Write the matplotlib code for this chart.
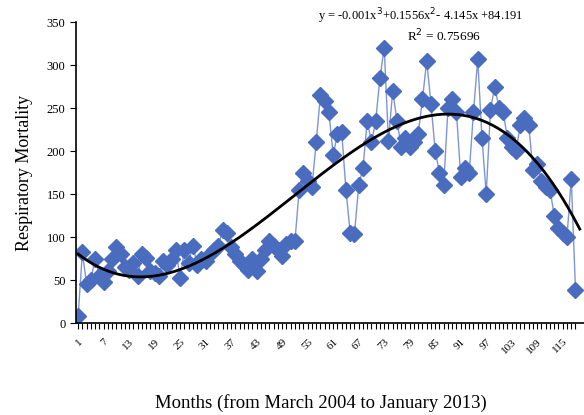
import numpy as np
import matplotlib.pyplot as plt

plt.rcParams["font.family"] = ["Liberation Serif", "DejaVu Serif"]

# monthly respiratory mortality, month 1 = March 2004
mortality = [
    8, 82, 45, 50, 75, 55, 48, 60, 75, 88,
    80, 65, 62, 70, 55, 80, 76, 60, 58, 55,
    72, 68, 75, 85, 52, 85, 70, 90, 68, 75,
    72, 80, 85, 90, 108, 105, 88, 80, 72, 68,
    62, 75, 60, 75, 85, 95, 90, 85, 78, 92,
    95, 95, 155, 175, 165, 158, 210, 265, 258, 245,
    195, 220, 222, 155, 105, 103, 160, 180, 235, 210,
    235, 285, 320, 212, 270, 235, 205, 215, 205, 210,
    220, 260, 305, 255, 200, 175, 160, 250, 260, 245,
    170, 180, 175, 245, 307, 215, 150, 248, 275, 250,
    245, 215, 205, 200, 230, 238, 230, 178, 185, 165,
    158, 155, 125, 110, 105, 100, 168, 38,
]
months = np.arange(1, len(mortality) + 1)

# cubic trend as printed on the chart
coef = [-0.001, 0.1556, -4.145, 84.191]
eq_text = "y = -0.001x$^3$+0.1556x$^2$- 4.145x +84.191"
r2_text = "R$^2$ = 0.75696"

fig = plt.figure(figsize=(5.84, 4.15), dpi=100)
ax = fig.add_axes([76 / 584, 92 / 415, 508 / 584, 301 / 415])

ax.plot(months, mortality, color="#7d95d6", lw=1.0, marker="D", markersize=8.5,
        markerfacecolor="#4a6cbf", markeredgecolor="#4a6cbf", zorder=2)

xs = np.linspace(1, 119, 300)
ax.plot(xs, np.polyval(coef, xs), color="black", lw=2.0, zorder=3)

ax.set_xlim(0.5, 120)
ax.set_ylim(0, 350)
ax.set_yticks(np.arange(0, 351, 50))
ax.set_xticks(months, minor=True)
ax.set_xticks(months[::6])
ax.set_xticklabels([str(m) for m in months[::6]], rotation=45, ha="right",
                   rotation_mode="anchor", fontsize=8)
ax.tick_params(axis="x", which="both", length=4, width=0.8, direction="out", pad=6)
ax.tick_params(axis="y", length=4, width=0.8, labelsize=9)

for side in ("top", "right"):
    ax.spines[side].set_visible(False)
for side in ("left", "bottom"):
    ax.spines[side].set_linewidth(1.2)

ax.set_ylabel("Respiratory Mortality", fontsize=13, labelpad=10)
fig.text(0.55, 0.03, "Months (from March 2004 to January 2013)",
         ha="center", va="center", fontsize=13.5)

fig.text(318 / 584, 1 - 16 / 415, eq_text, fontsize=9, va="center")
fig.text(407 / 584, 1 - 36 / 415, r2_text, fontsize=9.5, va="center")

fig.savefig("out.png", dpi=100)
